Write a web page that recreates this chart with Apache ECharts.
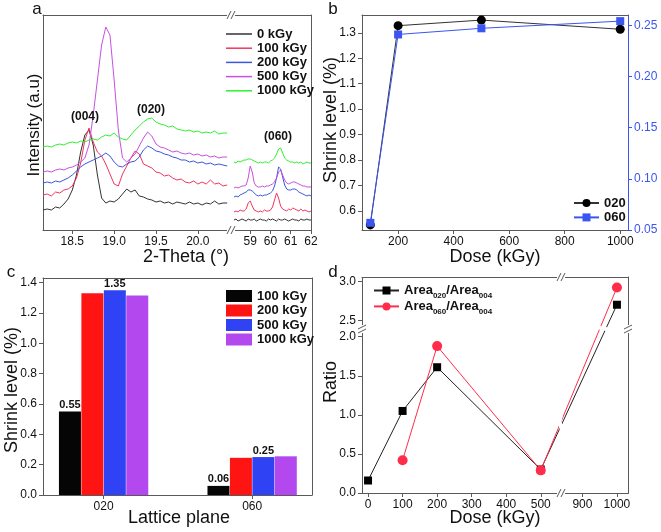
<!DOCTYPE html>
<html>
<head>
<meta charset="utf-8">
<script src="https://cdn.jsdelivr.net/npm/echarts@6.0.0/dist/echarts.min.js"></script>
<style>
html, body { margin: 0; padding: 0; background: #fff; }
#chart { width: 661px; height: 532px; }
</style>
</head>
<body>
<div id="chart"></div>
<script>
// panel a: XRD patterns (intensity in arbitrary units)
const doses = ['0 kGy', '100 kGy', '200 kGy', '500 kGy', '1000 kGy'];
const doseColors = ['#333333', '#f2355f', '#3b57dd', '#c850e2', '#2ff02f'];
const thetaLow = [18.15, 18.2, 18.25, 18.3, 18.35, 18.4, 18.45, 18.5, 18.55, 18.6, 18.65, 18.7, 18.75, 18.8, 18.85,
    18.9, 18.95, 19, 19.05, 19.1, 19.15, 19.2, 19.25, 19.3, 19.35, 19.4, 19.45, 19.5, 19.55, 19.6, 19.65, 19.7,
    19.75, 19.8, 19.85, 19.9, 19.95, 20, 20.05, 20.1, 20.15, 20.2, 20.25, 20.3, 20.35];
const low0 = [20, 21, 20, 23, 22, 26, 31, 40, 55, 78, 95, 100, 85, 55, 32, 27, 29, 28, 31, 36, 41, 38, 40, 34, 33, 31, 30, 28, 29, 27, 28, 26, 28, 27, 26, 28, 26, 27, 25, 27, 26, 29, 26, 27, 27];
const low1 = [35, 36, 34, 38, 37, 40, 41, 44, 52, 67, 90, 102, 88, 78, 74, 66, 56, 46, 44, 56, 64, 72, 79, 76, 66, 64, 62, 58, 57, 54, 55, 52, 50, 51, 48, 47, 49, 46, 48, 46, 50, 46, 47, 44, 45];
const low2 = [47, 48, 47, 49, 48, 50, 52, 55, 59, 63, 66, 68, 70, 72, 74, 77, 74, 68, 64, 63, 66, 68, 69, 73, 80, 84, 82, 79, 78, 76, 75, 73, 72, 70, 70, 68, 69, 67, 68, 66, 67, 65, 66, 65, 64];
const low3 = [58, 59, 58, 60, 61, 60, 62, 63, 65, 68, 72, 85, 115, 150, 185, 203, 195, 150, 100, 72, 68, 72, 76, 84, 92, 98, 94, 86, 83, 82, 80, 78, 79, 77, 76, 77, 75, 76, 74, 75, 73, 74, 72, 73, 73];
const low4 = [83, 84, 83, 85, 86, 85, 87, 88, 87, 89, 88, 90, 91, 90, 93, 95, 94, 97, 93, 91, 90, 95, 100, 104, 108, 111, 112, 108, 106, 105, 103, 104, 101, 100, 99, 100, 98, 99, 97, 98, 97, 99, 96, 97, 97];
const thetaHigh = [58.2, 58.3, 58.4, 58.5, 58.6, 58.7, 58.8, 58.9, 59, 59.1, 59.2, 59.3, 59.4, 59.5, 59.6, 59.7, 59.8,
    59.9, 60, 60.1, 60.2, 60.3, 60.4, 60.5, 60.6, 60.7, 60.8, 60.9, 61, 61.1, 61.2, 61.3, 61.4, 61.5, 61.6, 61.7,
    61.8, 61.9, 62];
const high0 = [10, 11, 9, 10, 11, 10, 9, 11, 10, 10, 11, 9, 10, 11, 10, 10, 9, 11, 10, 11, 10, 9, 11, 10, 10, 11, 10, 9, 10, 11, 10, 10, 9, 11, 10, 10, 11, 10, 10];
const high1 = [18, 19, 18, 20, 19, 19, 21, 27, 29, 24, 20, 19, 18, 19, 18, 20, 19, 19, 20, 23, 30, 37, 32, 24, 21, 20, 19, 21, 20, 22, 21, 20, 19, 21, 19, 20, 19, 18, 19];
const high2 = [33, 34, 33, 35, 36, 37, 38, 40, 40, 39, 37, 35, 34, 35, 34, 35, 35, 36, 37, 39, 44, 52, 63, 61, 53, 45, 41, 40, 40, 41, 41, 40, 38, 37, 36, 35, 34, 35, 34];
const high3 = [42, 43, 42, 43, 44, 44, 45, 52, 64, 58, 47, 44, 43, 43, 44, 43, 44, 44, 45, 46, 48, 52, 58, 60, 55, 50, 47, 46, 47, 48, 48, 47, 46, 45, 44, 44, 43, 43, 43];
const high4 = [68, 67, 69, 68, 69, 70, 70, 71, 71, 70, 69, 68, 67, 68, 67, 68, 68, 67, 69, 70, 72, 76, 81, 82, 77, 72, 70, 69, 68, 68, 67, 68, 67, 68, 66, 67, 68, 67, 67];
const lowSets = [low0, low1, low2, low3, low4];
const highSets = [high0, high1, high2, high3, high4];

// panel b: shrink level vs dose
const doseB = [100, 200, 500, 1000];
const shrink020 = [0.545, 1.328, 1.35, 1.314];
const shrink060 = [0.057, 0.241, 0.247, 0.254];

// panel c: shrink level per lattice plane
const planes = ['020', '060'];
const barNames = ['100 kGy', '200 kGy', '500 kGy', '1000 kGy'];
const barColors = ['#050505', '#ff1414', '#2f43f5', '#b448ef'];
const bar100 = [0.55, 0.06];
const bar200 = [1.33, 0.245];
const bar500 = [1.35, 0.25];
const bar1000 = [1.315, 0.255];
const barSets = [bar100, bar200, bar500, bar1000];

// panel d: area ratios
const doseD1 = [0, 100, 200, 500, 1000];
const ratio020 = [0.16, 1.05, 1.61, 0.30, 2.70];
const doseD2 = [100, 200, 500, 1000];
const ratio060 = [0.42, 1.88, 0.29, 2.92];

const FONT = 'Liberation Sans, Arial, sans-serif';
const AX = '#5a5a5a';
const BLUE = '#3b55f0';

const pair = (xs, ys) => xs.map((x, i) => [x, ys[i]]);

function tickAxis(gridIndex, position, min, max, ticks, fmt, extra) {
    return Object.assign({
        type: 'value', gridIndex, position, min, max,
        axisLine: {show: true, onZero: false, lineStyle: {color: AX, width: 1}},
        axisTick: {show: true, length: 4, customValues: ticks, lineStyle: {color: AX}},
        axisLabel: {show: true, customValues: ticks, formatter: fmt, fontFamily: FONT, fontSize: 12, color: '#111', margin: 6},
        splitLine: {show: false},
    }, extra || {});
}
function lineAxis(gridIndex, position, color) {
    return {
        type: 'value', gridIndex, position, min: 0, max: 1,
        axisLine: {show: true, onZero: false, lineStyle: {color: color || AX, width: 1}},
        axisTick: {show: false}, axisLabel: {show: false}, splitLine: {show: false},
    };
}
const f1 = v => v.toFixed(1);
const f2 = v => v.toFixed(2);

const breakArea = {
    show: true,
    itemStyle: {color: '#fff', borderWidth: 0, opacity: 1},
    zigzagAmplitude: 2,
    zigzagZ: 100,
    expandOnClick: false,
};

const series = [];
doses.forEach((name, i) => {
    series.push({
        name, type: 'line', xAxisIndex: 0, yAxisIndex: 0, data: pair(thetaLow, lowSets[i]),
        symbol: 'none', lineStyle: {width: 1, color: doseColors[i]}, itemStyle: {color: doseColors[i]},
    });
    series.push({
        name, type: 'line', xAxisIndex: 2, yAxisIndex: 1, data: pair(thetaHigh, highSets[i]),
        symbol: 'none', lineStyle: {width: 1, color: doseColors[i]}, itemStyle: {color: doseColors[i]},
    });
});
series.push({
    name: '020', type: 'line', xAxisIndex: 4, yAxisIndex: 2, data: pair(doseB, shrink020),
    symbol: 'circle', symbolSize: 9, lineStyle: {width: 1, color: '#333'}, itemStyle: {color: '#000'},
});
series.push({
    name: '060', type: 'line', xAxisIndex: 4, yAxisIndex: 3, data: pair(doseB, shrink060),
    symbol: 'rect', symbolSize: 8, lineStyle: {width: 1, color: BLUE}, itemStyle: {color: BLUE},
});
barNames.forEach((name, i) => {
    const withLabel = i === 0 || i === 2;
    series.push({
        name: name + '\u200b', type: 'bar', xAxisIndex: 6, yAxisIndex: 4,
        data: barSets[i].map((v, j) => [j + 1, v]),
        barWidth: 22, barGap: '2%',
        itemStyle: {color: barColors[i]},
        label: {
            show: withLabel, position: 'top', distance: 1, formatter: p => f2(p.value[1]),
            fontFamily: FONT, fontSize: 11, fontWeight: 'bold', color: '#111',
        },
    });
});
series.push({
    name: 'Area020/Area004', type: 'line', xAxisIndex: 8, yAxisIndex: 6, data: pair(doseD1, ratio020),
    symbol: 'rect', symbolSize: 8, lineStyle: {width: 1, color: '#222'}, itemStyle: {color: '#000'},
});
series.push({
    name: 'Area060/Area004', type: 'line', xAxisIndex: 8, yAxisIndex: 6, data: pair(doseD2, ratio060),
    symbol: 'circle', symbolSize: 10, lineStyle: {width: 1, color: '#ff2d4b'}, itemStyle: {color: '#ff2d4b'},
});

function txt(text, x, y, size, opts) {
    return Object.assign({
        type: 'text', x, y, z: 200,
        style: Object.assign({
            text, fontFamily: FONT, fontSize: size, fill: '#111',
            align: 'center', verticalAlign: 'middle',
        }, (opts && opts.style) || {}),
    }, (opts && opts.el) || {});
}
function slashes(cx, cy, vertical) {
    const els = [{
        type: 'rect', z: 300,
        shape: {x: cx - 4, y: cy - 4, width: 8, height: 8},
        style: {fill: '#fff'},
    }];
    [-2, 2].forEach(o => {
        const shape = vertical
            ? {x1: cx - 4, y1: cy + o + 2, x2: cx + 4, y2: cy + o - 2}
            : {x1: cx + o - 2, y1: cy + 4, x2: cx + o + 2, y2: cy - 4};
        els.push({type: 'line', z: 301, shape, style: {stroke: AX, lineWidth: 1}});
    });
    return els;
}

const planeFmt = v => planes[Math.round(v) - 1];
const richLegend = {
    n: {fontFamily: FONT, fontSize: 13, fontWeight: 'bold', color: '#111', lineHeight: 18, verticalAlign: 'middle'},
    s: {fontFamily: FONT, fontSize: 8, fontWeight: 'bold', color: '#111', lineHeight: 8, verticalAlign: 'bottom'},
};

const option = {
    animation: false,
    backgroundColor: '#fff',
    grid: [
        {left: 43, top: 15, width: 185, height: 215, outerBoundsMode: 'none'},
        {left: 234, top: 15, width: 77, height: 215, outerBoundsMode: 'none'},
        {left: 362, top: 15, width: 266, height: 215, outerBoundsMode: 'none'},
        {left: 43, top: 278, width: 269, height: 217, outerBoundsMode: 'none'},
        {left: 362, top: 277, width: 266, height: 216, outerBoundsMode: 'none'},
    ],
    xAxis: [
        tickAxis(0, 'bottom', 18.15, 20.36, [18.5, 19, 19.5, 20], f1),
        lineAxis(0, 'top'),
        tickAxis(1, 'bottom', 58.2, 62, [59, 60, 61, 62], v => String(v)),
        lineAxis(1, 'top'),
        tickAxis(2, 'bottom', 70, 1028, [200, 400, 600, 800, 1000], v => String(v)),
        lineAxis(2, 'top'),
        tickAxis(3, 'bottom', 0.592, 2.403, [1, 2], planeFmt),
        lineAxis(3, 'top'),
        tickAxis(4, 'bottom', -17.5, 1032, [0, 100, 200, 300, 400, 500, 900, 1000], v => String(v), {
            breaks: [{start: 553, end: 844, gap: '1.5%'}], breakArea,
        }),
        lineAxis(4, 'top'),
    ],
    yAxis: [
        Object.assign(lineAxis(0, 'left'), {min: 0, max: 215}),
        Object.assign(lineAxis(1, 'right'), {min: 0, max: 215}),
        tickAxis(2, 'left', 0.525, 1.37, [0.6, 0.7, 0.8, 0.9, 1.0, 1.1, 1.2, 1.3], f1),
        tickAxis(2, 'right', 0.05, 0.26, [0.05, 0.1, 0.15, 0.2, 0.25], f2, {
            axisLine: {show: true, onZero: false, lineStyle: {color: BLUE, width: 1}},
            axisTick: {show: true, length: 4, customValues: [0.05, 0.1, 0.15, 0.2, 0.25], lineStyle: {color: BLUE}},
            axisLabel: {show: true, customValues: [0.05, 0.1, 0.15, 0.2, 0.25], formatter: f2, fontFamily: FONT, fontSize: 12, color: BLUE, margin: 6},
        }),
        tickAxis(3, 'left', 0, 1.43, [0, 0.2, 0.4, 0.6, 0.8, 1.0, 1.2, 1.4], f1),
        lineAxis(3, 'right'),
        tickAxis(4, 'left', 0, 3.055, [0, 0.5, 1.0, 1.5, 2.0, 2.5, 3.0], f1, {
            breaks: [{start: 2.08, end: 2.42, gap: '1.8%'}], breakArea,
        }),
        lineAxis(4, 'right'),
    ],
    legend: [
        {
            data: doses.map(n => ({name: n, icon: 'rect'})), orient: 'vertical', left: 221, top: 22,
            itemWidth: 26, itemHeight: 1.5, itemGap: 0.2,
            textStyle: {fontFamily: FONT, fontSize: 13, fontWeight: 'bold', color: '#111', lineHeight: 14},
            selectedMode: false,
        },
        {
            data: ['020', '060'], orient: 'vertical', left: 568, top: 191, itemWidth: 25, itemHeight: 10, itemGap: 0.4,
            textStyle: {fontFamily: FONT, fontSize: 13, fontWeight: 'bold', color: '#111', lineHeight: 14},
            selectedMode: false,
        },
        {
            data: barNames.map(n => ({name: n + '\u200b', icon: 'rect'})), orient: 'vertical', left: 221, top: 284,
            itemWidth: 26, itemHeight: 12, itemGap: 0.5,
            textStyle: {fontFamily: FONT, fontSize: 13, fontWeight: 'bold', color: '#111', lineHeight: 14},
            selectedMode: false,
        },
        {
            data: ['Area020/Area004', 'Area060/Area004'], orient: 'vertical', left: 368, top: 279,
            itemWidth: 25, itemHeight: 10, itemGap: 0.4,
            formatter: name => '{n|Area}{s|' + name.slice(4, 7) + '}{n|/Area}{s|' + name.slice(-3) + '}',
            textStyle: {rich: richLegend},
            selectedMode: false,
        },
    ],
    series,
    graphic: [
        txt('a', 37, 9, 17),
        txt('b', 333, 9, 17),
        txt('c', 11, 272, 17),
        txt('d', 333, 272, 17),
        txt('(004)', 85, 117, 12, {style: {fontWeight: 'bold'}}),
        txt('(020)', 151, 110, 12, {style: {fontWeight: 'bold'}}),
        txt('(060)', 278, 137, 12, {style: {fontWeight: 'bold'}}),
        txt('Intensity (a.u)', 34, 125, 17, {el: {rotation: Math.PI / 2}}),
        txt('2-Theta (°)', 186, 257, 18),
        txt('Shrink level (%)', 331, 120, 18, {el: {rotation: Math.PI / 2}}),
        txt('Dose (kGy)', 495, 257, 18),
        txt('Shrink level (%)', 12, 390, 18, {el: {rotation: Math.PI / 2}}),
        txt('Lattice plane', 179, 518, 18),
        txt('Ratio', 331, 382, 18, {el: {rotation: Math.PI / 2}}),
        txt('Dose (kGy)', 495, 518, 18),
        ...slashes(231, 15, false),
        ...slashes(231, 230, false),
        ...slashes(561, 277, false),
        ...slashes(561, 493, false),
        ...slashes(362, 329, true),
        ...slashes(628, 329, true),
    ],
};

const myChart = echarts.init(document.getElementById('chart'));
myChart.setOption(option);
</script>
</body>
</html>
